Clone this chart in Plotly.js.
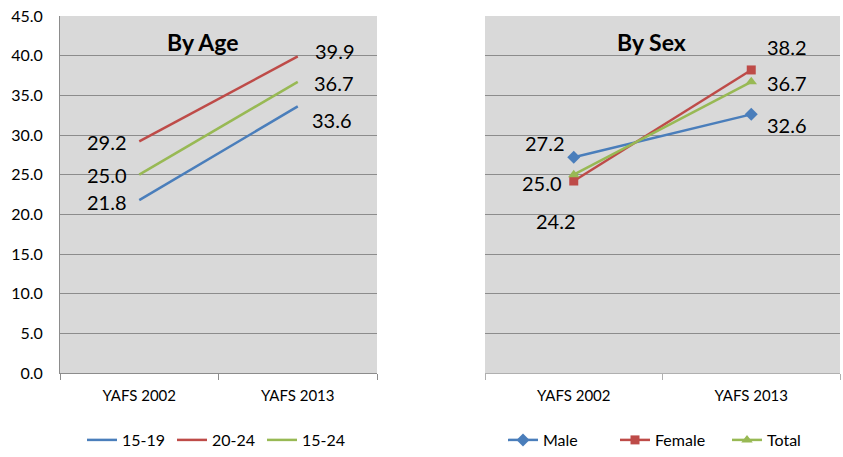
<!DOCTYPE html>
<html>
<head>
<meta charset="utf-8">
<script src="https://cdn.plot.ly/plotly-3.0.1.min.js"></script>
<style>html,body{margin:0;padding:0;background:#fff;}#chart{width:843px;height:457px;}</style>
</head>
<body>
<div id="chart"></div>
<script>
const categories = ["YAFS 2002", "YAFS 2013"];
const ageGroups = ["15-19", "20-24", "15-24"];
const age1519 = [21.8, 33.6];
const age2024 = [29.2, 39.9];
const age1524 = [25.0, 36.7];
const sexGroups = ["Male", "Female", "Total"];
const male = [27.2, 32.6];
const female = [24.2, 38.2];
const total = [25.0, 36.7];
const yTicks = [0, 5, 10, 15, 20, 25, 30, 35, 40, 45];

const BLUE = "#4a7ebb", RED = "#be4b48", GREEN = "#98b954";
const FONT = "Lato, 'Open Sans', sans-serif";

const traces = [
  {x: categories, y: age1519, name: ageGroups[0], mode: "lines", line: {color: BLUE, width: 2.5}, xaxis: "x", yaxis: "y", legend: "legend"},
  {x: categories, y: age2024, name: ageGroups[1], mode: "lines", line: {color: RED, width: 2.5}, xaxis: "x", yaxis: "y", legend: "legend"},
  {x: categories, y: age1524, name: ageGroups[2], mode: "lines", line: {color: GREEN, width: 2.5}, xaxis: "x", yaxis: "y", legend: "legend"},
  {x: categories, y: male, name: sexGroups[0], mode: "lines+markers", line: {color: BLUE, width: 2.5}, marker: {symbol: "diamond", size: 10, color: BLUE}, xaxis: "x2", yaxis: "y2", legend: "legend2"},
  {x: categories, y: female, name: sexGroups[1], mode: "lines+markers", line: {color: RED, width: 2.5}, marker: {symbol: "square", size: 9, color: RED}, xaxis: "x2", yaxis: "y2", legend: "legend2"},
  {x: categories, y: total, name: sexGroups[2], mode: "lines+markers", line: {color: GREEN, width: 2.5}, marker: {symbol: "triangle-up", size: 10, color: GREEN}, xaxis: "x2", yaxis: "y2", legend: "legend2"}
];

function lbl(xa, ya, xi, val, dx, dy) {
  return {xref: xa, yref: ya, x: categories[xi], y: val, text: val.toFixed(1), showarrow: false,
          xshift: dx, yshift: dy, font: {family: FONT, size: 20, color: "#000"}};
}
const annotations = [
  lbl("x", "y", 0, age2024[0], -32, -1),
  lbl("x", "y", 0, age1524[0], -32, 0),
  lbl("x", "y", 0, age1519[0], -32, -2),
  lbl("x", "y", 1, age2024[1], 37, 5),
  lbl("x", "y", 1, age1524[1], 36, -1),
  lbl("x", "y", 1, age1519[1], 34, -14),
  lbl("x2", "y2", 0, male[0], -29, 14),
  lbl("x2", "y2", 0, total[0], -32, -8),
  lbl("x2", "y2", 0, female[0], -18, -40),
  lbl("x2", "y2", 1, female[1], 36, 23),
  lbl("x2", "y2", 1, total[1], 36, -1),
  lbl("x2", "y2", 1, male[1], 36, -11),
  {xref: "x domain", yref: "y domain", x: 0.45, y: 0.927, yanchor: "middle", text: "<b>By Age</b>", showarrow: false, font: {family: FONT, size: 23, color: "#000"}},
  {xref: "x2 domain", yref: "y2 domain", x: 0.47, y: 0.927, yanchor: "middle", text: "<b>By Sex</b>", showarrow: false, font: {family: FONT, size: 23, color: "#000"}}
];

const xaxisCommon = {type: "category", range: [-0.5, 1.5], showgrid: false, zeroline: false,
  showline: true, linecolor: "#8c8c8c", linewidth: 1, ticks: "outside", tickson: "boundaries",
  ticklen: 6, tickcolor: "#8c8c8c", ticklabelstandoff: 9,
  tickfont: {family: FONT, size: 15, color: "#000"}, fixedrange: true};
const yaxisCommon = {range: [0, 45], tickvals: yTicks, showgrid: true, gridcolor: "#8c8c8c", gridwidth: 1,
  zeroline: false, fixedrange: true};

const layout = {
  width: 843, height: 457,
  margin: {l: 0, r: 0, t: 16, b: 83},
  paper_bgcolor: "#fff",
  plot_bgcolor: "#d9d9d9",
  font: {family: FONT},
  xaxis: Object.assign({}, xaxisCommon, {domain: [60/843, 377/843], anchor: "y"}),
  yaxis: Object.assign({}, yaxisCommon, {domain: [0, 1], anchor: "x", showline: true, linecolor: "#8c8c8c",
    tickmode: "array", tickvals: yTicks, ticktext: yTicks.map(v => v.toFixed(1)), ticks: "", ticklabelstandoff: 13,
    tickfont: {family: FONT, size: 16, color: "#000"}}),
  xaxis2: Object.assign({}, xaxisCommon, {domain: [485/843, 840/843], anchor: "y2", linecolor: "#b0b0b0", tickcolor: "#b0b0b0"}),
  yaxis2: Object.assign({}, yaxisCommon, {domain: [0, 1], anchor: "x2", showticklabels: false, showline: false, ticks: ""}),
  legend: {orientation: "h", x: 82/843, xanchor: "left", y: -0.187, yanchor: "middle",
    font: {family: FONT, size: 16, color: "#000"}, entrywidth: 45, entrywidthmode: "pixels", itemwidth: 30, bgcolor: "rgba(0,0,0,0)"},
  legend2: {orientation: "h", x: 503/843, xanchor: "left", y: -0.187, yanchor: "middle",
    font: {family: FONT, size: 16, color: "#000"}, entrywidth: 67, entrywidthmode: "pixels", itemwidth: 30, bgcolor: "rgba(0,0,0,0)"},
  annotations: annotations,
  showlegend: true
};

Plotly.newPlot("chart", traces, layout, {displayModeBar: false, staticPlot: true});
</script>
</body>
</html>
